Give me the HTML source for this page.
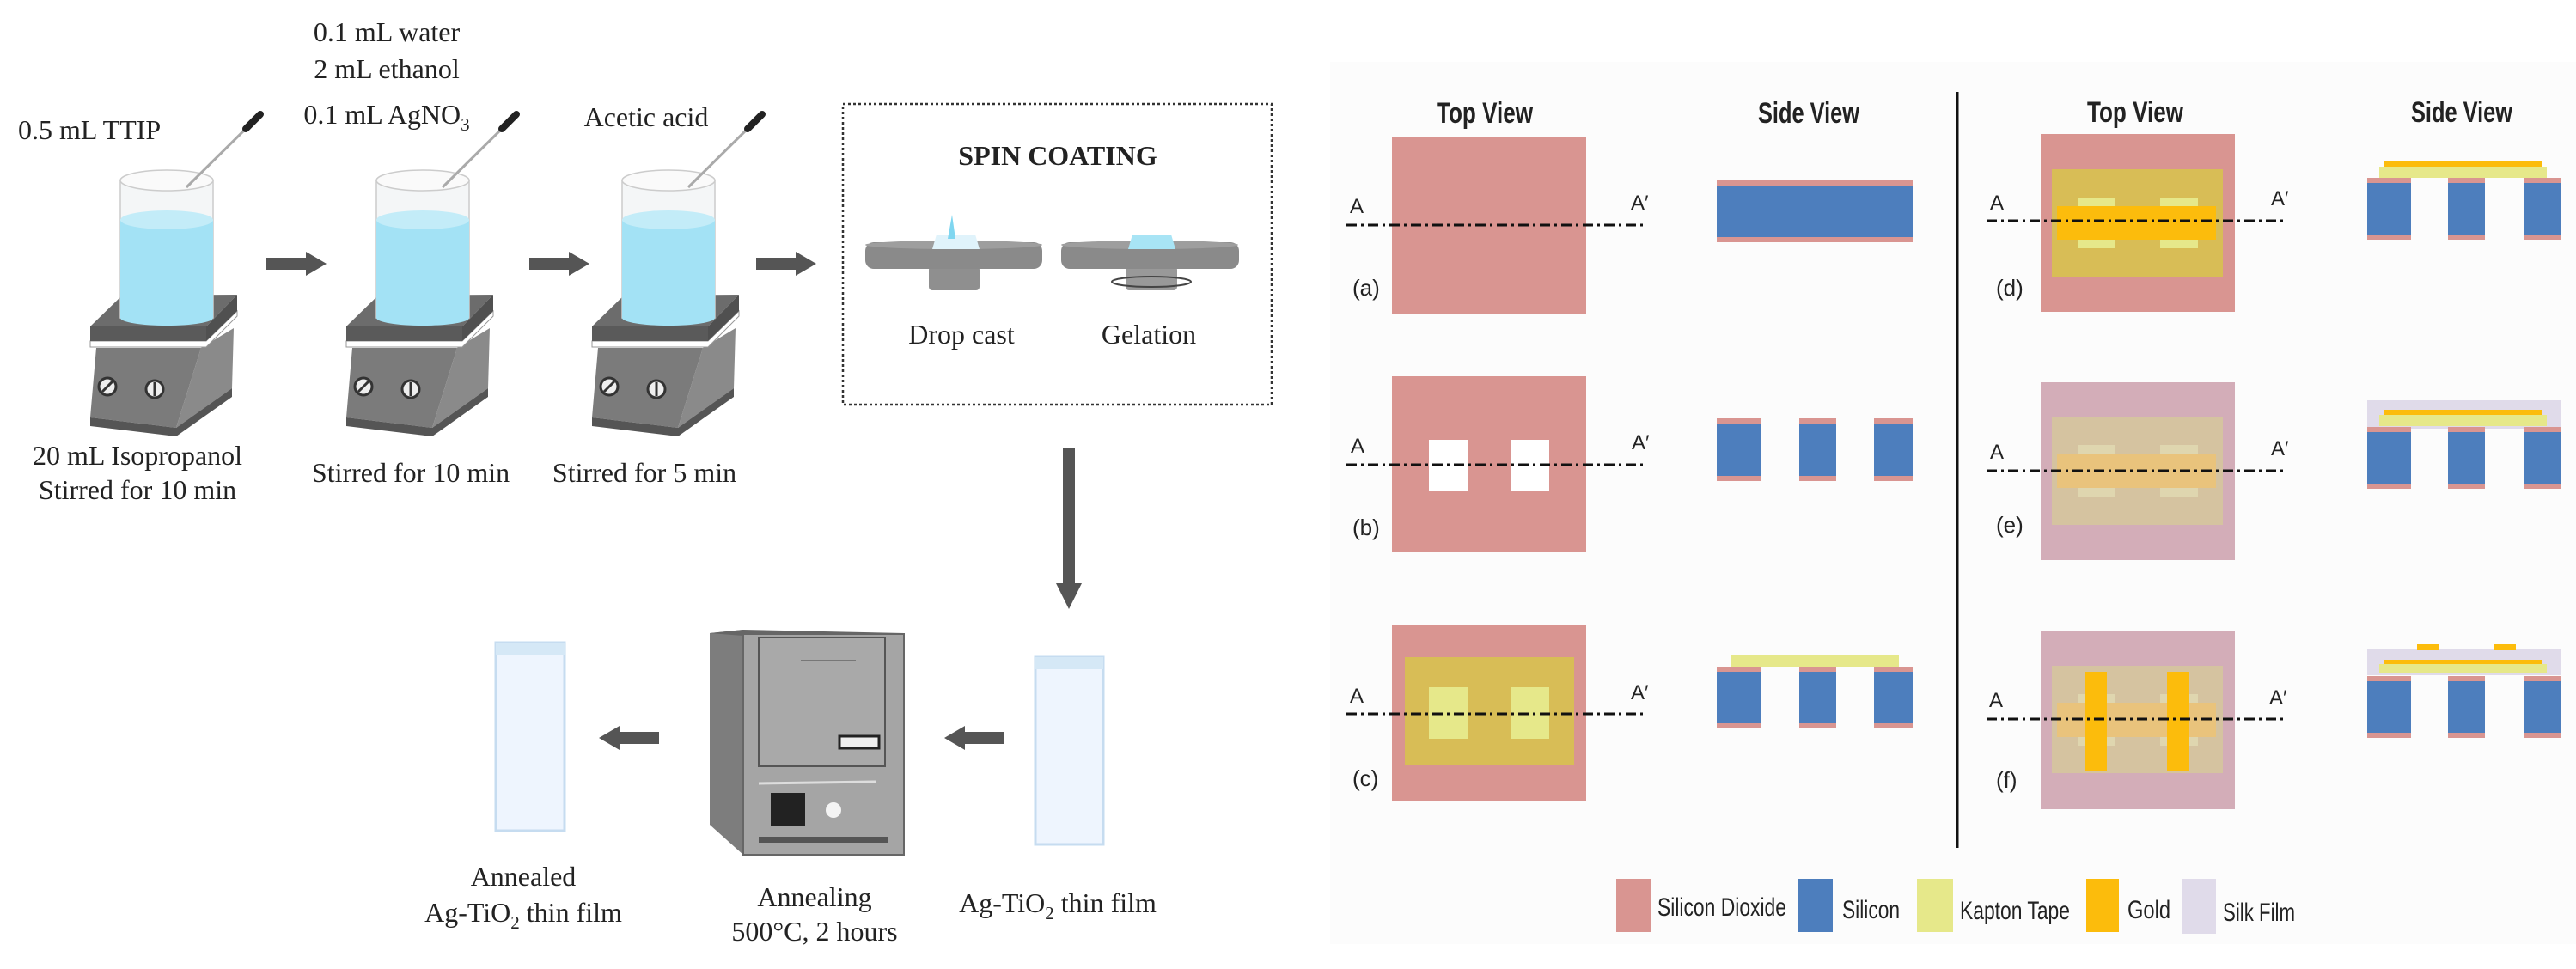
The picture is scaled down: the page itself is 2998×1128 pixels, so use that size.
<!DOCTYPE html>
<html><head><meta charset="utf-8"><style>
html,body{margin:0;padding:0;background:#fff;}
svg{display:block;}
.s{font-family:"Liberation Serif",serif;fill:#222;font-size:32px;}
.c{font-family:"Liberation Sans Narrow","Liberation Sans",sans-serif;fill:#222;}
</style></head><body>
<svg width="2998" height="1128" viewBox="0 0 2998 1128" xmlns="http://www.w3.org/2000/svg">
<defs>
<g id="hp">
  <polygon points="112,405 234,405 205,498 105,486" fill="#7b7b7b"/>
  <polygon points="234,405 272,382 270,452 205,498" fill="#8a8a8a"/>
  <polygon points="105,486 205,498 270,452 270,462 205,508 105,496" fill="#555"/>
  <polygon points="105,397 240,397 276,362 276,368 240,404 105,404" fill="#fff" stroke="#999" stroke-width="1"/>
  <polygon points="105,380 240,380 240,397 105,397" fill="#5a5a5a"/>
  <polygon points="240,380 276,343 276,362 240,397" fill="#505050"/>
  <polygon points="105,380 142,344 276,343 240,380" fill="#6c6c6c"/>
  <circle cx="125" cy="450" r="10" fill="#eee" stroke="#333" stroke-width="3"/>
  <line x1="119" y1="456" x2="131" y2="444" stroke="#333" stroke-width="3"/>
  <circle cx="180" cy="453" r="10" fill="#eee" stroke="#333" stroke-width="3"/>
  <line x1="180" y1="445" x2="180" y2="461" stroke="#333" stroke-width="3"/>
  <rect x="140" y="210" width="108" height="160" fill="#f4f6f7" stroke="#ccc" stroke-width="1.5"/>
  <ellipse cx="194" cy="210" rx="54" ry="12" fill="#fafafa" stroke="#ccc" stroke-width="1.5"/>
  <rect x="140" y="256" width="108" height="114" fill="#a3e2f5"/>
  <ellipse cx="194" cy="256" rx="54" ry="11" fill="#c3ecf8"/>
  <ellipse cx="194" cy="370" rx="54" ry="9" fill="#a3e2f5"/>
  <line x1="217" y1="218" x2="290" y2="146" stroke="#aaa" stroke-width="3"/>
  <line x1="286" y1="150" x2="303" y2="133" stroke="#222" stroke-width="8" stroke-linecap="round"/>
</g>
<g id="arr"><rect x="0" y="-7" width="48" height="14" fill="#555"/><polygon points="46,-14 70,0 46,14" fill="#555"/></g>
</defs>

<text class="s" x="21" y="162">0.5 mL TTIP</text>
<text class="s" x="450" y="48" text-anchor="middle">0.1 mL water</text>
<text class="s" x="450" y="91" text-anchor="middle">2 mL ethanol</text>
<text class="s" x="450" y="144" text-anchor="middle">0.1 mL AgNO<tspan font-size="21" dy="8">3</tspan></text>
<text class="s" x="752" y="147" text-anchor="middle">Acetic acid</text>

<use href="#hp"/>
<use href="#hp" transform="translate(298,0)"/>
<use href="#hp" transform="translate(584,0)"/>

<use href="#arr" transform="translate(310,307)"/>
<use href="#arr" transform="translate(616,307)"/>
<use href="#arr" transform="translate(880,307)"/>

<text class="s" x="160" y="541" text-anchor="middle">20 mL Isopropanol</text>
<text class="s" x="160" y="581" text-anchor="middle">Stirred for 10 min</text>
<text class="s" x="478" y="561" text-anchor="middle">Stirred for 10 min</text>
<text class="s" x="750" y="561" text-anchor="middle">Stirred for 5 min</text>

<rect x="981" y="121" width="499" height="350" fill="none" stroke="#333" stroke-width="2.5" stroke-dasharray="3,3"/>
<text class="s" x="1231" y="192" text-anchor="middle" font-weight="bold" font-size="30">SPIN COATING</text>
<rect x="1081" y="310" width="59" height="28" rx="4" fill="#8f8f8f"/>
<rect x="1007" y="282" width="206" height="31" rx="10" fill="#8a8a8a"/>
<ellipse cx="1110" cy="285" rx="103" ry="5" fill="#9e9e9e"/>
<polygon points="1085,290 1140,290 1135,273 1090,273" fill="#e0f3fb"/>
<polygon points="1103,278 1108,250 1112,278" fill="#7fd6f0"/>
<rect x="1310" y="310" width="60" height="28" rx="4" fill="#999"/>
<ellipse cx="1340" cy="328" rx="46" ry="6" fill="none" stroke="#444" stroke-width="2"/>
<rect x="1235" y="282" width="207" height="31" rx="10" fill="#8a8a8a"/>
<ellipse cx="1338" cy="285" rx="103" ry="5" fill="#9e9e9e"/>
<polygon points="1313,290 1368,290 1363,273 1318,273" fill="#a8e4f5"/>
<text class="s" x="1119" y="400" text-anchor="middle">Drop cast</text>
<text class="s" x="1337" y="400" text-anchor="middle">Gelation</text>

<rect x="1237" y="521" width="14" height="160" fill="#555"/>
<polygon points="1229,679 1259,679 1244,709" fill="#555"/>

<rect x="1205" y="765" width="79" height="218" fill="#eef5fe" stroke="#c6dcf0" stroke-width="3"/>
<rect x="1205" y="765" width="79" height="14" fill="#d5e8f6"/>
<rect x="577" y="748" width="80" height="219" fill="#eef5fe" stroke="#c6dcf0" stroke-width="3"/>
<rect x="577" y="748" width="80" height="14" fill="#d5e8f6"/>
<use href="#arr" transform="translate(1169,859) scale(-1,1)"/>
<use href="#arr" transform="translate(767,859) scale(-1,1)"/>

<polygon points="826,737 865,733 865,995 826,960" fill="#7d7d7d"/>
<polygon points="826,737 865,733 1052,737 1052,740 865,740" fill="#666"/>
<rect x="865" y="738" width="187" height="257" fill="#a5a5a5" stroke="#666" stroke-width="2"/>
<rect x="883" y="742" width="147" height="150" fill="#a9a9a9" stroke="#555" stroke-width="2"/>
<line x1="932" y1="769" x2="996" y2="769" stroke="#777" stroke-width="2"/>
<rect x="977" y="857" width="46" height="14" fill="#eee" stroke="#222" stroke-width="3"/>
<line x1="883" y1="912" x2="1020" y2="910" stroke="#ddd" stroke-width="3"/>
<rect x="897" y="923" width="40" height="38" fill="#222"/>
<circle cx="970" cy="943" r="9" fill="#f4f4f4"/>
<rect x="883" y="974" width="150" height="7" fill="#555"/>
<text class="s" x="948" y="1055" text-anchor="middle">Annealing</text>
<text class="s" x="948" y="1095" text-anchor="middle">500°C, 2 hours</text>
<text class="s" x="1231" y="1062" text-anchor="middle">Ag-TiO<tspan font-size="21" dy="8">2</tspan><tspan dy="-8"> thin film</tspan></text>
<text class="s" x="609" y="1031" text-anchor="middle">Annealed</text>
<text class="s" x="609" y="1073" text-anchor="middle">Ag-TiO<tspan font-size="21" dy="8">2</tspan><tspan dy="-8"> thin film</tspan></text>

<rect x="1548" y="72" width="1450" height="1027" fill="#fcfcfc"/>
<line x1="2278" y1="107" x2="2278" y2="987" stroke="#111" stroke-width="3"/>
<g class="c" font-size="34" font-weight="bold" text-anchor="middle">
<text x="1728" y="143" textLength="112" lengthAdjust="spacingAndGlyphs">Top View</text>
<text x="2105" y="143" textLength="118" lengthAdjust="spacingAndGlyphs">Side View</text>
<text x="2485" y="142" textLength="112" lengthAdjust="spacingAndGlyphs">Top View</text>
<text x="2865" y="142" textLength="118" lengthAdjust="spacingAndGlyphs">Side View</text>
</g>

<rect x="1620" y="159" width="226" height="206" fill="#d99591"/>
<rect x="1998" y="210" width="228" height="72" fill="#d99591"/>
<rect x="1998" y="216" width="228" height="60" fill="#4d7ebd"/>
<rect x="1620" y="438" width="226" height="205" fill="#d99591"/>
<rect x="1663" y="512" width="46" height="59" fill="#fff"/>
<rect x="1758" y="512" width="45" height="59" fill="#fff"/>
<g fill="#d99591"><rect x="1998" y="487" width="52" height="73"/><rect x="2094" y="487" width="43" height="73"/><rect x="2181" y="487" width="45" height="73"/></g>
<g fill="#4d7ebd"><rect x="1998" y="493" width="52" height="61"/><rect x="2094" y="493" width="43" height="61"/><rect x="2181" y="493" width="45" height="61"/></g>
<rect x="1620" y="727" width="226" height="206" fill="#d99591"/>
<rect x="1635" y="765" width="197" height="126" fill="#d8bd56"/>
<rect x="1663" y="800" width="46" height="60" fill="#e6e88a"/>
<rect x="1758" y="800" width="45" height="60" fill="#e6e88a"/>
<rect x="2014" y="763" width="196" height="13" fill="#e6e88a"/>
<g fill="#d99591"><rect x="1998" y="776" width="52" height="72"/><rect x="2094" y="776" width="43" height="72"/><rect x="2181" y="776" width="45" height="72"/></g>
<g fill="#4d7ebd"><rect x="1998" y="782" width="52" height="60"/><rect x="2094" y="782" width="43" height="60"/><rect x="2181" y="782" width="45" height="60"/></g>

<rect x="2375" y="156" width="226" height="207" fill="#d99591"/>
<rect x="2388" y="197" width="199" height="125" fill="#d8bd56"/>
<rect x="2418" y="230" width="44" height="59" fill="#e6e88a"/>
<rect x="2514" y="230" width="44" height="59" fill="#e6e88a"/>
<rect x="2394" y="240" width="185" height="39" fill="#fcbc0c"/>
<rect x="2769" y="194" width="195" height="13" fill="#e6e88a"/>
<rect x="2775" y="188" width="183" height="6" fill="#fcbc0c"/>
<g fill="#d99591"><rect x="2755" y="207" width="51" height="72"/><rect x="2849" y="207" width="43" height="72"/><rect x="2937" y="207" width="44" height="72"/></g>
<g fill="#4d7ebd"><rect x="2755" y="213" width="51" height="60"/><rect x="2849" y="213" width="43" height="60"/><rect x="2937" y="213" width="44" height="60"/></g>
<rect x="2375" y="445" width="226" height="207" fill="#d3adb8"/>
<rect x="2388" y="486" width="199" height="125" fill="#d5c3a0"/>
<rect x="2418" y="518" width="44" height="60" fill="#dfd6af"/>
<rect x="2514" y="518" width="44" height="60" fill="#dfd6af"/>
<rect x="2394" y="528" width="185" height="40" fill="#e9c37c"/>
<rect x="2755" y="466" width="226" height="33" fill="#e0dbea"/>
<rect x="2769" y="483" width="195" height="13" fill="#e6e88a"/>
<rect x="2775" y="477" width="183" height="6" fill="#fcbc0c"/>
<g fill="#d99591"><rect x="2755" y="497" width="51" height="72"/><rect x="2849" y="497" width="43" height="72"/><rect x="2937" y="497" width="44" height="72"/></g>
<g fill="#4d7ebd"><rect x="2755" y="503" width="51" height="60"/><rect x="2849" y="503" width="43" height="60"/><rect x="2937" y="503" width="44" height="60"/></g>
<rect x="2375" y="735" width="226" height="207" fill="#d3adb8"/>
<rect x="2388" y="775" width="199" height="125" fill="#d5c3a0"/>
<rect x="2418" y="808" width="44" height="60" fill="#dfd6af"/>
<rect x="2514" y="808" width="44" height="60" fill="#dfd6af"/>
<rect x="2394" y="818" width="185" height="40" fill="#e9c37c"/>
<rect x="2426" y="782" width="26" height="115" fill="#fcbc0c"/>
<rect x="2522" y="782" width="26" height="115" fill="#fcbc0c"/>
<rect x="2755" y="756" width="226" height="30" fill="#e0dbea"/>
<rect x="2769" y="773" width="195" height="11" fill="#e6e88a"/>
<rect x="2775" y="768" width="183" height="5" fill="#fcbc0c"/>
<rect x="2813" y="750" width="26" height="7" fill="#fcbc0c"/>
<rect x="2902" y="750" width="26" height="7" fill="#fcbc0c"/>
<g fill="#d99591"><rect x="2755" y="787" width="51" height="72"/><rect x="2849" y="787" width="43" height="72"/><rect x="2937" y="787" width="44" height="72"/></g>
<g fill="#4d7ebd"><rect x="2755" y="793" width="51" height="60"/><rect x="2849" y="793" width="43" height="60"/><rect x="2937" y="793" width="44" height="60"/></g>

<g stroke="#111" stroke-width="3" stroke-dasharray="12,5,3,5">
<line x1="1567" y1="262" x2="1913" y2="262"/>
<line x1="1567" y1="541" x2="1913" y2="541"/>
<line x1="1567" y1="831" x2="1913" y2="831"/>
<line x1="2312" y1="257" x2="2659" y2="257"/>
<line x1="2312" y1="548" x2="2659" y2="548"/>
<line x1="2312" y1="837" x2="2659" y2="837"/>
</g>
<g class="c" font-size="24">
<text x="1571" y="248">A</text><text x="1898" y="244">A′</text>
<text x="1572" y="527">A</text><text x="1899" y="523">A′</text>
<text x="1571" y="818">A</text><text x="1898" y="814">A′</text>
<text x="2316" y="244">A</text><text x="2643" y="239">A′</text>
<text x="2316" y="534">A</text><text x="2643" y="530">A′</text>
<text x="2315" y="823">A</text><text x="2641" y="820">A′</text>
</g>
<g class="c" font-size="26">
<text x="1574" y="344">(a)</text>
<text x="1574" y="623">(b)</text>
<text x="1574" y="915">(c)</text>
<text x="2323" y="344">(d)</text>
<text x="2323" y="620">(e)</text>
<text x="2323" y="917">(f)</text>
</g>

<rect x="1881" y="1023" width="40" height="62" fill="#d99591"/>
<rect x="2092" y="1023" width="41" height="62" fill="#4d7ebd"/>
<rect x="2231" y="1023" width="42" height="62" fill="#e6e88a"/>
<rect x="2428" y="1023" width="38" height="62" fill="#fcbc0c"/>
<rect x="2540" y="1023" width="39" height="64" fill="#e0dbea"/>
<g class="c" font-size="30">
<text x="1929" y="1066" textLength="150" lengthAdjust="spacingAndGlyphs">Silicon Dioxide</text>
<text x="2144" y="1069" textLength="67" lengthAdjust="spacingAndGlyphs">Silicon</text>
<text x="2281" y="1070" textLength="128" lengthAdjust="spacingAndGlyphs">Kapton Tape</text>
<text x="2476" y="1069" textLength="50" lengthAdjust="spacingAndGlyphs">Gold</text>
<text x="2587" y="1072" textLength="84" lengthAdjust="spacingAndGlyphs">Silk Film</text>
</g>
</svg>
</body></html>
